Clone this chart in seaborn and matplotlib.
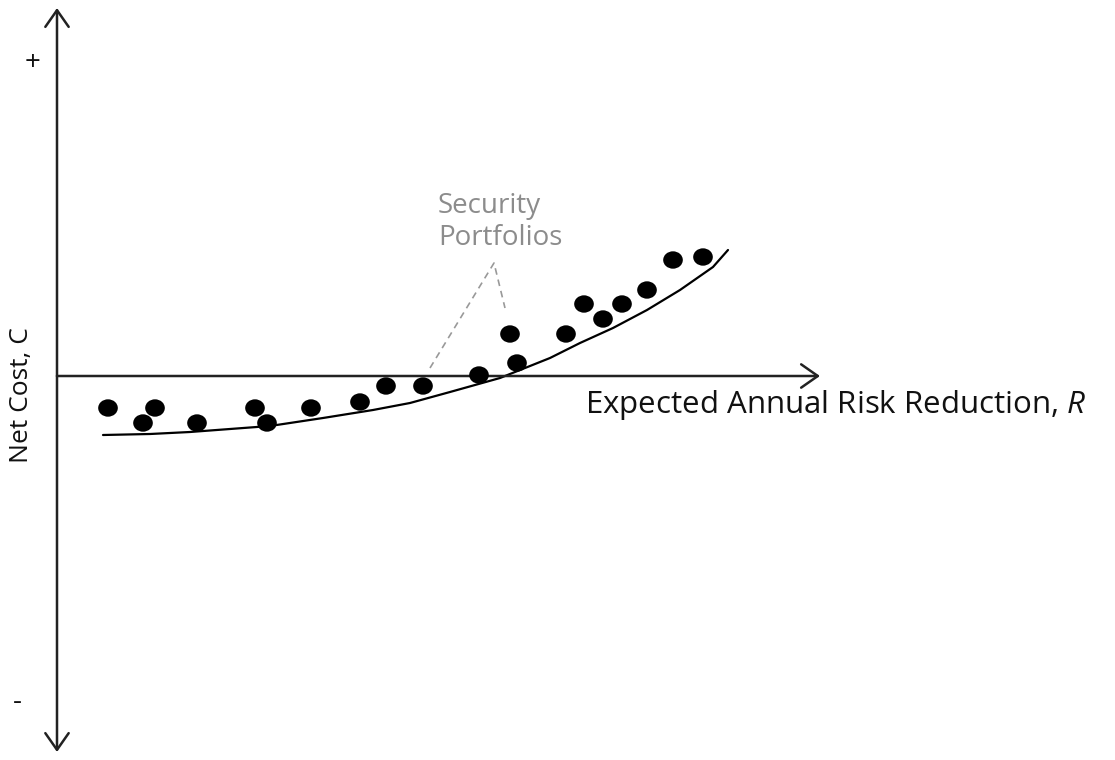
import numpy as np
import matplotlib.pyplot as plt
import seaborn as sns
from matplotlib.path import Path
from matplotlib.transforms import Affine2D

# Conceptual chart: net cost vs expected annual risk reduction
sns.set_style('white')
plt.rcParams['font.family'] = ['Open Sans', 'DejaVu Sans']
plt.rcParams['mathtext.fontset'] = 'custom'
plt.rcParams['mathtext.rm'] = 'Open Sans'
plt.rcParams['mathtext.it'] = 'Open Sans:italic'

# Security portfolios (arbitrary units)
portfolio_r = [1.02, 1.72, 1.96, 2.80, 3.96, 4.20, 5.08, 6.06, 6.58, 7.32,
               8.44, 9.06, 9.20, 10.18, 10.54, 10.92, 11.30, 11.80, 12.32, 12.92]
portfolio_c = [-0.64, -0.94, -0.64, -0.94, -0.64, -0.94, -0.64, -0.52, -0.20, -0.20,
               0.02, 0.84, 0.26, 0.84, 1.44, 1.14, 1.44, 1.72, 2.32, 2.38]

# Efficient frontier curve
frontier_r = [0.92, 1.86, 2.66, 3.46, 4.26, 5.32, 6.32, 7.06, 7.86, 8.86,
              9.86, 10.46, 11.12, 11.80, 12.46, 13.12, 13.42]
frontier_c = [-1.18, -1.16, -1.12, -1.06, -1.00, -0.84, -0.68, -0.54, -0.32, -0.04,
              0.36, 0.66, 0.96, 1.32, 1.72, 2.18, 2.52]

# Callout leader lines (left end, apex, right end)
leader_r = [7.46, 8.74, 8.96]
leader_c = [0.16, 2.26, 1.36]

x_label = 'Expected Annual Risk Reduction, $R$'
y_label = 'Net Cost, C'
callout = 'Security\nPortfolios'

fig = plt.figure(figsize=(11.15, 7.6), dpi=100)
ax = fig.add_axes([0, 0, 1, 1])
ax.set_xlim(-1.14, 21.16)
ax.set_ylim(-7.68, 7.52)
ax.axis('off')

# Axes drawn as arrows
arrow_kw = dict(arrowstyle='->,head_length=0.6,head_width=0.42',
                color='#222222', lw=1.8, mutation_scale=20, shrinkA=0, shrinkB=0)
ax.annotate('', xy=(0, 7.36), xytext=(0, 0), arrowprops=arrow_kw)
ax.annotate('', xy=(0, -7.52), xytext=(0, 0), arrowprops=arrow_kw)
ax.annotate('', xy=(15.26, 0), xytext=(0, 0), arrowprops=arrow_kw)

# slightly wide dots, like the original
dot = Path.unit_circle().transformed(Affine2D().scale(1.13, 1.0))

# Frontier and portfolios
sns.lineplot(x=frontier_r, y=frontier_c, color='black', lw=1.6,
             sort=False, estimator=None, ax=ax)
sns.scatterplot(x=portfolio_r, y=portfolio_c, color='black', s=200, marker=dot,
                edgecolor='none', ax=ax, zorder=3)

# Callout
ax.plot(leader_r, leader_c, color='#999999', lw=1.2, ls=(0, (4, 3)))
ax.text(7.62, 3.08, callout, color='#8c8c8c', fontsize=20, ha='left', va='center',
        linespacing=1.2)

# Labels
ax.text(10.56, -0.58, x_label, fontsize=22.5, ha='left', va='center', color='#111111')
ax.text(-0.70, -0.38, y_label, fontsize=19, rotation=90, ha='center', va='center',
        color='#111111')
ax.text(-0.48, 6.26, '+', fontsize=20, ha='center', va='center', color='#111111')
ax.text(-0.80, -6.52, '-', fontsize=20, ha='center', va='center', color='#111111')

plt.savefig('out.png', dpi=100)
